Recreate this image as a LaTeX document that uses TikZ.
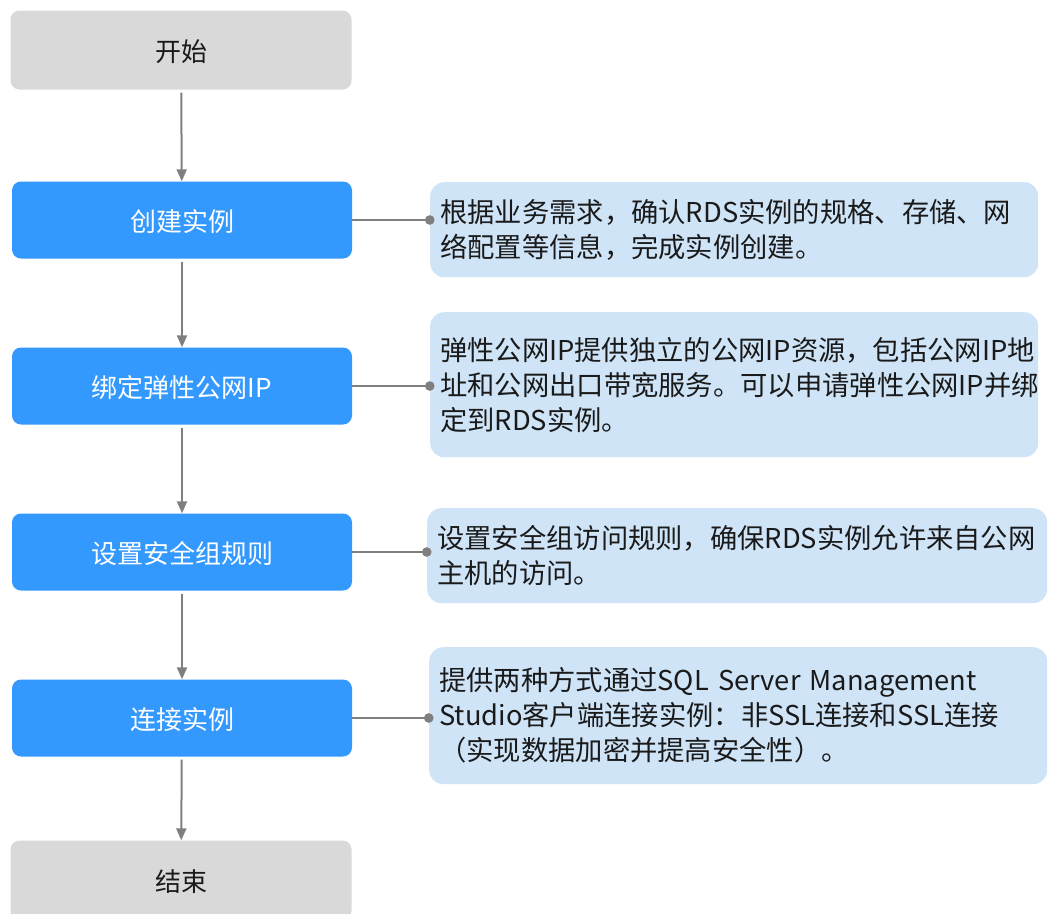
\documentclass[tikz,border=0pt]{standalone}
\usepackage{fontspec}
\setmainfont{Noto Sans CJK SC}
\usetikzlibrary{arrows.meta}
\definecolor{termgray}{HTML}{D9D9D9}
\definecolor{stepblue}{HTML}{3399FF}
\definecolor{descblue}{HTML}{CFE4F7}
\definecolor{linegray}{HTML}{7F7F7F}
\definecolor{ink}{HTML}{1A1A1A}
\newcommand\lowtxt[1]{\raisebox{-6pt}{#1}}
\tikzset{
  term/.style={rectangle, rounded corners=9pt, fill=termgray, minimum width=341pt, minimum height=79pt, inner sep=0pt, text height=1em, text depth=0pt, text=ink, font=\fontsize{26}{30}\selectfont},
  stepbox/.style={rectangle, rounded corners=9pt, fill=stepblue, minimum width=340pt, minimum height=77pt, inner sep=0pt, text height=1em, text depth=0pt, text=white, font=\fontsize{26}{30}\selectfont},
  desc/.style={rectangle, rounded corners=14pt, fill=descblue, anchor=north west, align=left, inner xsep=10pt, inner ysep=0pt, text=ink, font=\fontsize{27.3}{35}\selectfont},
  flow/.style={draw=linegray, line width=2pt, shorten <=3pt, -{Triangle[length=12pt,width=10pt]}},
  link/.style={draw=linegray, line width=2pt, shorten >=-4.5pt, -{Circle[length=9.5pt]}},
}
\begin{document}
\begin{tikzpicture}[x=1pt,y=-1pt]
\useasboundingbox (0,0) rectangle (1048,913);
\clip (0,0) rectangle (1048,913);
\node[term] (start) at (181,50) {\lowtxt{开始}};
\node[stepbox] (s1) at (182,220) {\lowtxt{创建实例}};
\node[stepbox] (s2) at (182,386) {\lowtxt{绑定弹性公网IP}};
\node[stepbox] (s3) at (182,552) {\lowtxt{设置安全组规则}};
\node[stepbox] (s4) at (182,718) {\lowtxt{连接实例}};
\node[term] (end) at (181,880) {\lowtxt{结束}};

\node[desc, minimum width=608pt, minimum height=95pt, text width=588pt] (d1) at (430,182)
  {根据业务需求，确认RDS实例的规格、存储、网\\络配置等信息，完成实例创建。};
\node[desc, minimum width=608pt, minimum height=145pt, text width=588pt] (d2) at (430,312)
  {弹性公网IP提供独立的公网IP资源，包括公网IP地\\址和公网出口带宽服务。可以申请弹性公网IP并绑\\定到RDS实例。};
\node[desc, minimum width=620pt, minimum height=95pt, text width=600pt] (d3) at (427,508)
  {设置安全组访问规则，确保RDS实例允许来自公网\\主机的访问。};
\node[desc, minimum width=618pt, minimum height=137pt, text width=598pt] (d4) at (429,647)
  {提供两种方式通过SQL Server Management\\Studio客户端连接实例：非SSL连接和SSL连接\\（实现数据加密并提高安全性）。};

\draw[flow] (start) -- (s1);
\draw[flow] (s1) -- (s2);
\draw[flow] (s2) -- (s3);
\draw[flow] (s3) -- (s4);
\draw[flow] (s4) -- (end);

\draw[link] (s1.east) -- (d1.west |- s1.east);
\draw[link] (s2.east) -- (d2.west |- s2.east);
\draw[link] (s3.east) -- (d3.west |- s3.east);
\draw[link] (s4.east) -- (d4.west |- s4.east);
\end{tikzpicture}
\end{document}
